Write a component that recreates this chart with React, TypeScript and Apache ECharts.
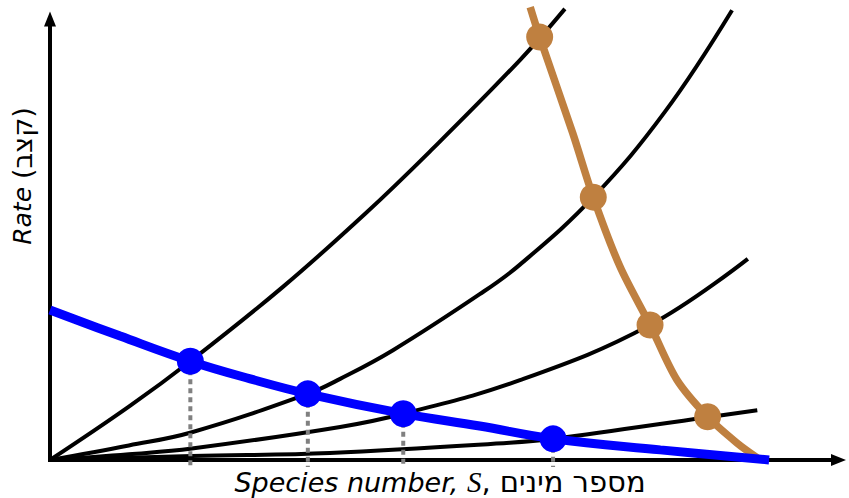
import React, { useEffect, useRef } from "react";
import * as echarts from "echarts";

// Extinction-rate curves, steepest first: [species number, rate]
const extinctionA = [[0, 0], [10, 12.1], [17.8, 22.4], [29.5, 39.2], [40, 55.9], [48.2, 70.0], [59.6, 90.7], [65.3, 102.3]];
const extinctionB = [[0, 0], [10, 3.3], [18, 6.3], [32.7, 15.0], [36.8, 18.4], [43.5, 24.9], [54.5, 37.6], [59.6, 44.3], [68.9, 59.6], [78, 79.0], [86.5, 102.0]];
const extinctionC = [[0, 0], [10, 1.3], [18, 2.6], [36.8, 7.5], [44.8, 10.5], [59.6, 18.1], [76.1, 30.6], [88.5, 45.6]];
const extinctionD = [[0, 0], [18, 0.9], [35.5, 1.6], [58.3, 3.9], [63.8, 4.8], [83.4, 9.7], [89.7, 11.3]];

// Immigration curve (blue) and the steep decreasing curve (brown)
const immigration = [[0, 34.0], [8.9, 28.1], [17.8, 22.4], [25.4, 18.4], [32.7, 15.0], [44.8, 10.5], [54.5, 7.7], [63.8, 4.8], [77.4, 2.3], [91.2, 0]];
const speciation = [[60.9, 102.7], [62.1, 95.9], [66.3, 74.1], [68.9, 59.6], [72.3, 43.8], [76.1, 30.6], [79.5, 18.2], [83.4, 9.8], [87.1, 3.9], [89.7, 0.5]];

// Equilibrium points
const immigrationEquilibria = [[17.8, 22.4], [32.7, 15.0], [44.8, 10.5], [63.8, 4.8]];
const speciationEquilibria = [[62.1, 95.9], [68.9, 59.6], [76.1, 30.6], [83.4, 9.8]];

// Drop-lines run from each blue point down just past the axis
const dropLineFloor = -1.6;

const BLUE = "#0000ff";
const BROWN = "#bf8040";

export default function App() {
  const ref = useRef<HTMLDivElement>(null);

  useEffect(() => {
    if (!ref.current) return;
    const chart = echarts.init(ref.current, undefined, { renderer: "svg" });

    const axisCommon = {
      type: "value" as const,
      min: 0,
      max: 100,
      axisLine: {
        show: true,
        onZero: false,
        symbol: ["none", "triangle"],
        symbolSize: [12, 15],
        lineStyle: { color: "#000", width: 4, cap: "square" as const },
      },
      axisTick: { show: false },
      axisLabel: { show: false },
      splitLine: { show: false },
    };

    const blackCurve = (data: number[][]) => ({
      type: "line",
      data,
      smooth: 0.4,
      symbol: "none",
      clip: false,
      z: 2,
      lineStyle: { color: "#000", width: 4 },
    });

    const dropLines = immigrationEquilibria.map(([x, y]) => ({
      type: "line",
      data: [[x, y], [x, dropLineFloor]],
      symbol: "none",
      clip: false,
      z: 3,
      lineStyle: { color: "#808080", width: 4, type: [5, 4] },
    }));

    chart.setOption({
      animation: false,
      backgroundColor: "#ffffff",
      grid: { left: 50, right: 10.5, top: 19, bottom: 38 },
      xAxis: axisCommon,
      yAxis: axisCommon,
      series: [
        blackCurve(extinctionA),
        blackCurve(extinctionB),
        blackCurve(extinctionC),
        blackCurve(extinctionD),
        ...dropLines,
        {
          type: "line",
          data: speciation,
          smooth: 0.3,
          symbol: "none",
          clip: false,
          z: 4,
          lineStyle: { color: BROWN, width: 7.5 },
        },
        {
          type: "line",
          data: immigration,
          smooth: 0.4,
          symbol: "none",
          clip: false,
          z: 5,
          lineStyle: { color: BLUE, width: 9 },
        },
        {
          type: "scatter",
          data: speciationEquilibria,
          symbolSize: 27,
          clip: false,
          z: 6,
          itemStyle: { color: BROWN, opacity: 1 },
        },
        {
          type: "scatter",
          data: immigrationEquilibria,
          symbolSize: 27,
          clip: false,
          z: 6,
          itemStyle: { color: BLUE, opacity: 1 },
        },
      ],
      graphic: [
        {
          type: "text",
          x: 440,
          y: 482,
          z: 10,
          style: {
            text: "{a|Species number, }{s|S}{b|, מספר מינים}",
            align: "center",
            verticalAlign: "middle",
            fill: "#000",
            rich: {
              a: { fontFamily: "DejaVu Sans", fontSize: 27, fontStyle: "italic", fill: "#000" },
              s: { fontFamily: "Liberation Serif", fontSize: 29, fontStyle: "italic", fill: "#000" },
              b: { fontFamily: "DejaVu Sans", fontSize: 29, fill: "#000" },
            },
          },
        },
        {
          type: "text",
          x: 22,
          y: 176,
          rotation: Math.PI / 2,
          z: 10,
          style: {
            text: "{a|Rate }{b|(קצב)}",
            align: "center",
            verticalAlign: "middle",
            fill: "#000",
            rich: {
              a: { fontFamily: "DejaVu Sans", fontSize: 25, fontStyle: "italic", fill: "#000" },
              b: { fontFamily: "DejaVu Sans", fontSize: 27, fill: "#000" },
            },
          },
        },
      ],
    });

    return () => chart.dispose();
  }, []);

  return <div ref={ref} style={{ width: 849, height: 498, position: "absolute", left: 0, top: 0 }} />;
}
